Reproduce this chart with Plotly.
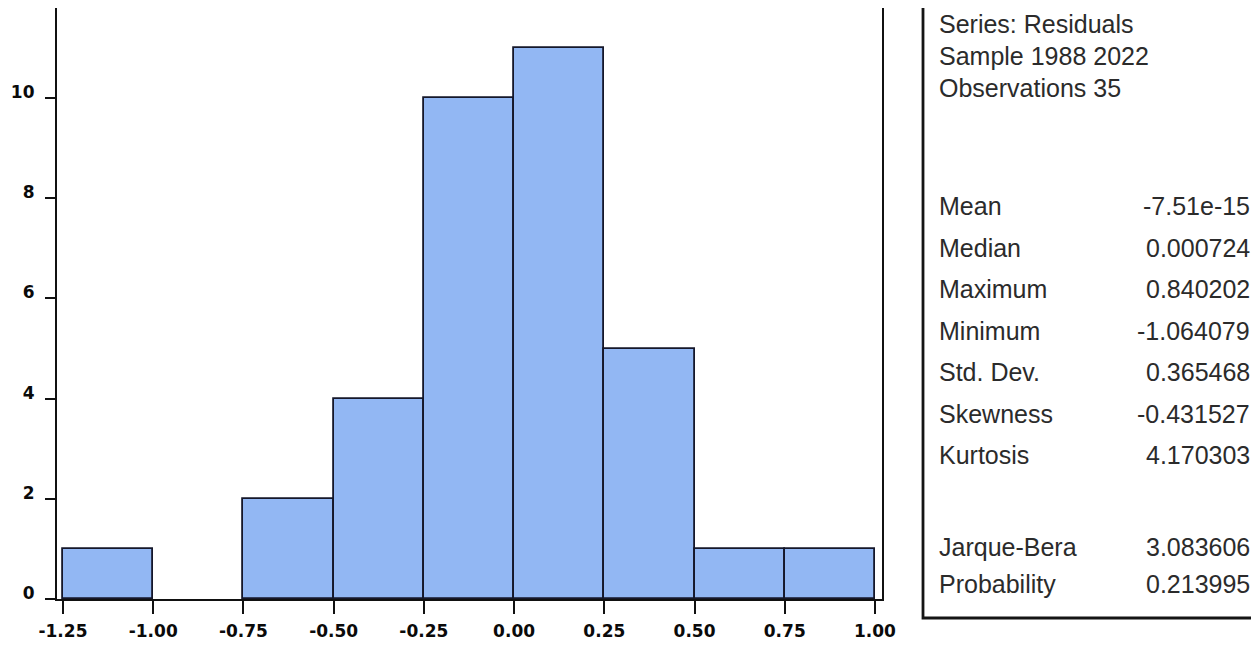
import plotly.graph_objects as go

# ---- data ----
bin_left = [-1.25, -1.00, -0.75, -0.50, -0.25, 0.00, 0.25, 0.50, 0.75]
counts = [1, 0, 2, 4, 10, 11, 5, 1, 1]
bin_width = 0.25
x_ticks = [-1.25, -1.00, -0.75, -0.50, -0.25, 0.00, 0.25, 0.50, 0.75, 1.00]
x_tick_labels = ["-1.25", "-1.00", "-0.75", "-0.50", "-0.25", "0.00", "0.25", "0.50", "0.75", "1.00"]
y_ticks = [0, 2, 4, 6, 8, 10]
header_lines = ["Series: Residuals", "Sample 1988 2022", "Observations 35"]
stat_names = ["Mean", "Median", "Maximum", "Minimum", "Std. Dev.", "Skewness", "Kurtosis"]
stat_values = ["-7.51e-15", "0.000724", "0.840202", "-1.064079", "0.365468", "-0.431527", "4.170303"]
test_names = ["Jarque-Bera", "Probability"]
test_values = ["3.083606", "0.213995"]

W, H = 1259, 645
OFF = 8  # page body margin of the html page


def px(x):
    return (x - OFF) / W


def py(y):
    return 1 - (y - OFF) / H


centers = [b + bin_width / 2 for b in bin_left]
outline = [1.8 if c > 0 else 0 for c in counts]

fig = go.Figure()
fig.add_trace(go.Bar(
    x=centers, y=counts, width=[bin_width] * len(counts),
    marker=dict(color="#92B7F3", line=dict(color="#15172a", width=outline)),
    hoverinfo="x+y", showlegend=False,
))

tick_font = dict(family="DejaVu Sans", size=17, color="#0a0a0a", weight="bold")
fig.update_layout(
    template="none",
    width=W, height=H,
    margin=dict(l=0, r=0, t=0, b=0, autoexpand=False),
    paper_bgcolor="white", plot_bgcolor="white",
    bargap=0,
    xaxis=dict(
        domain=[px(57), px(882)], range=[-1.2666, 1.0195], automargin=False,
        tickmode="array", tickvals=x_ticks, ticktext=x_tick_labels,
        ticks="outside", ticklen=13, tickwidth=2, tickcolor="#111111",
        ticklabelstandoff=2,
        showline=True, linecolor="#111111", linewidth=2.2,
        showgrid=False, zeroline=False, tickfont=tick_font,
    ),
    yaxis=dict(
        domain=[py(599), py(8)], range=[0, 11.8], automargin=False,
        tickmode="array", tickvals=y_ticks, ticktext=[str(v) for v in y_ticks],
        ticks="outside", ticklen=10, tickwidth=2, tickcolor="#111111",
        ticklabelstandoff=7, ticklabelshift=-6,
        showline=True, linecolor="#111111", linewidth=2.2, mirror=True,
        showgrid=False, zeroline=False, tickfont=tick_font,
    ),
)

# stats panel box
fig.add_shape(type="rect", xref="paper", yref="paper",
              x0=px(923), x1=px(1290), y0=py(618), y1=py(-30),
              line=dict(color="#151515", width=2.8), fillcolor="rgba(0,0,0,0)")

stat_font = dict(family="Liberation Sans", size=25, color="#2b2b2b")
label_x = px(937)
value_x = px(1252)


def put(text, x, y, anchor):
    fig.add_annotation(x=x, y=py(y), xref="paper", yref="paper", text=text,
                       showarrow=False, xanchor=anchor, yanchor="middle", font=stat_font)


header_y = [24, 56, 88]
for txt, y in zip(header_lines, header_y):
    put(txt, label_x, y, "left")

stat_y0, step = 206, 41.5
for i, (n, v) in enumerate(zip(stat_names, stat_values)):
    y = stat_y0 + i * step
    put(n, label_x, y, "left")
    put(v, value_x, y, "right")

test_y = [547, 584]
for n, v, y in zip(test_names, test_values, test_y):
    put(n, label_x, y, "left")
    put(v, value_x, y, "right")

fig.write_html("out.html")
